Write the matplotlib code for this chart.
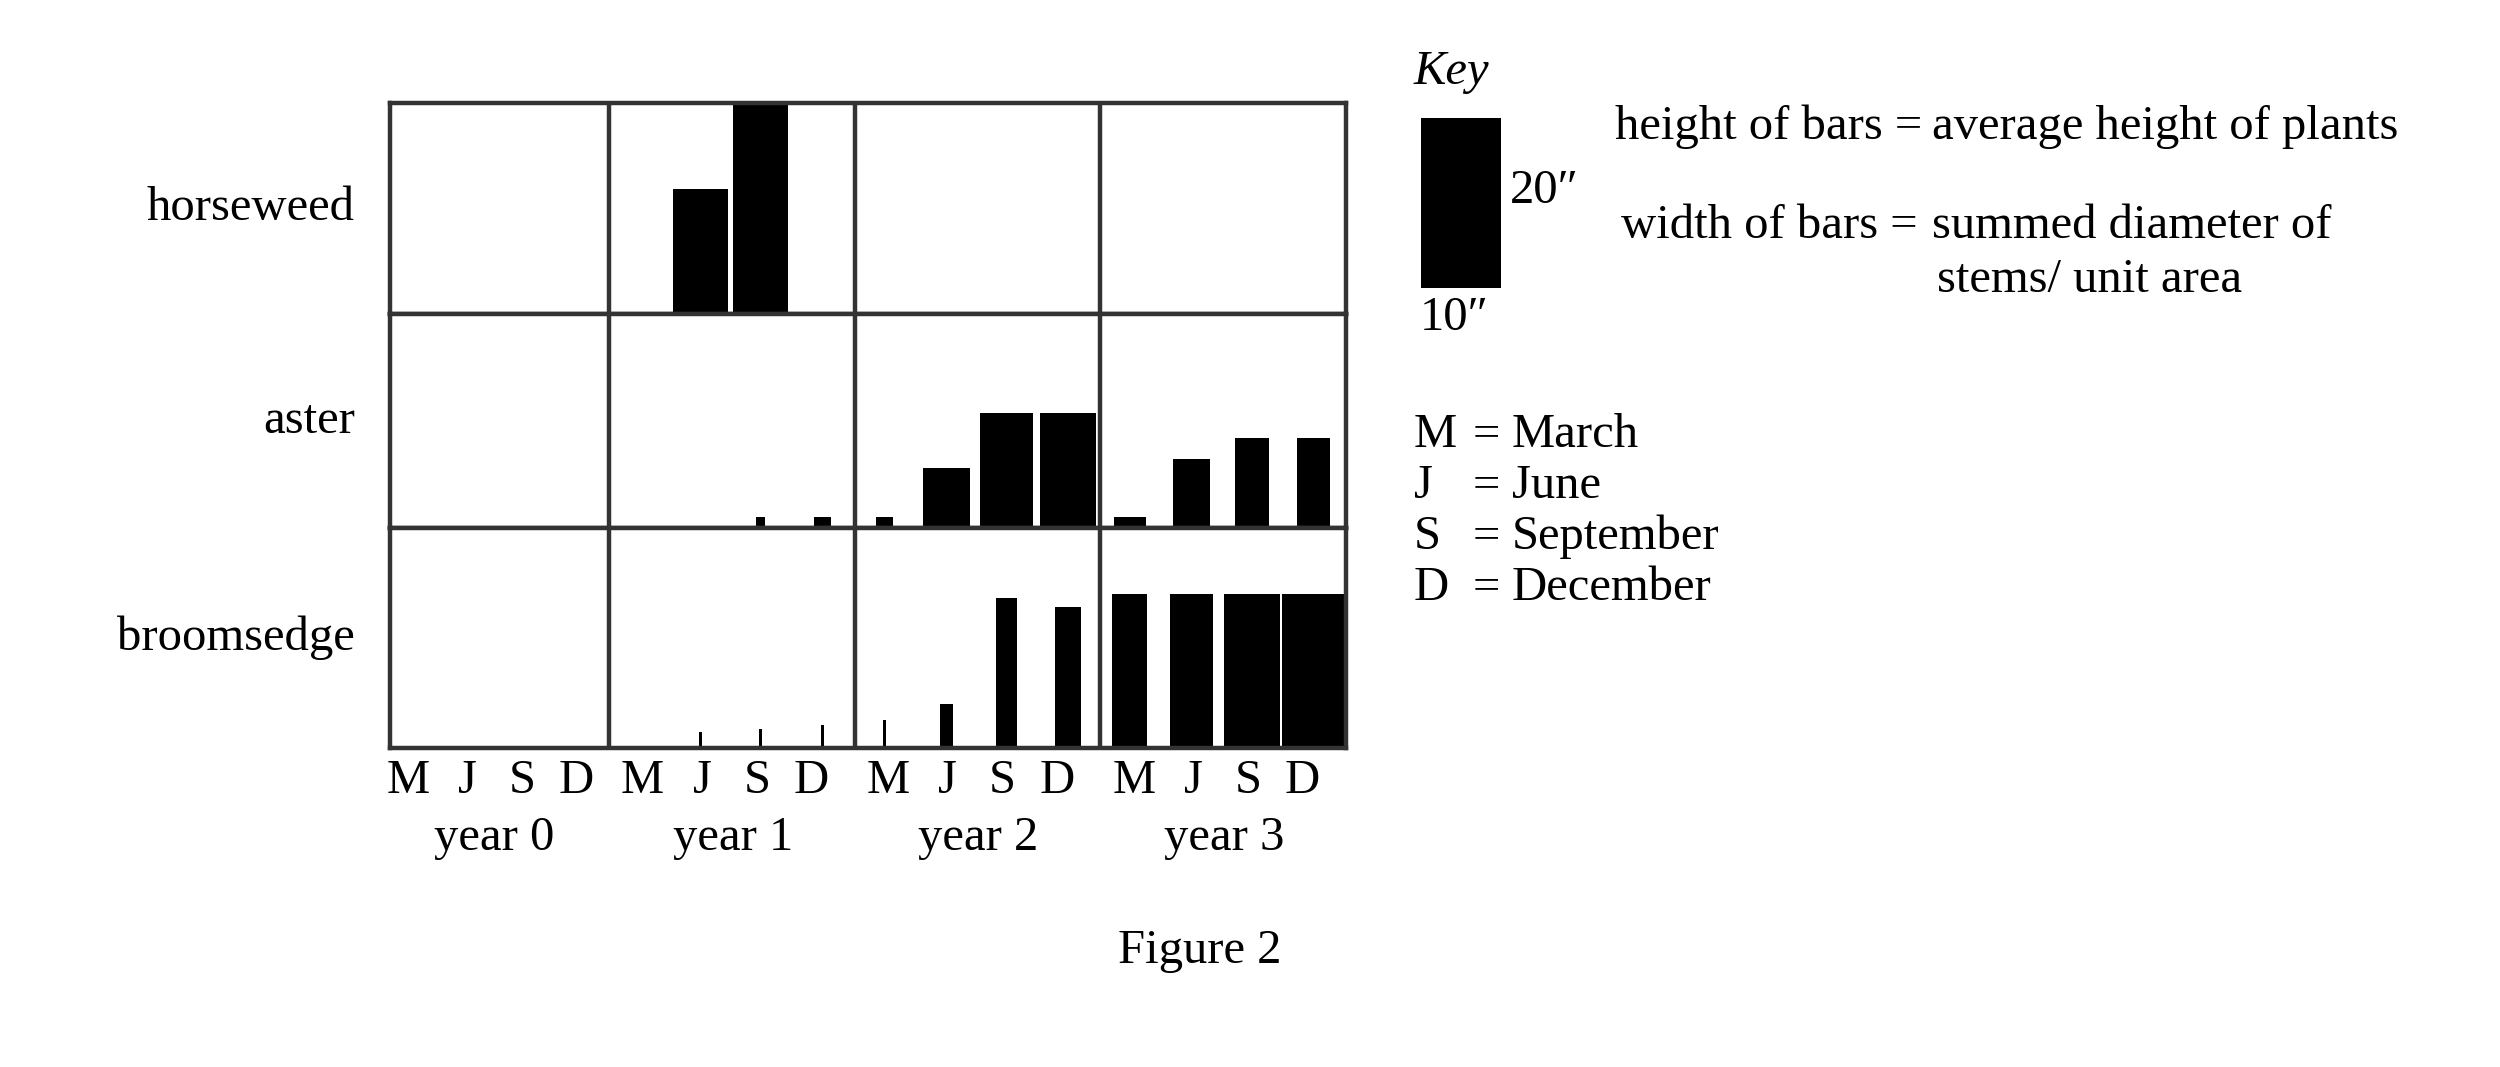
import numpy as np
import matplotlib.pyplot as plt

plt.rcParams['font.family'] = ['Liberation Serif', 'DejaVu Serif']

# ---- data ----
species = ['horseweed', 'aster', 'broomsedge']
years = ['year 0', 'year 1', 'year 2', 'year 3']
months = ['M', 'J', 'S', 'D']
month_names = ['March', 'June', 'September', 'December']

# (year, month index) of each bar, height in inches, width in key units (key bar = 10)
horseweed_when = [(1, 1), (1, 2)]
horseweed_height = [14.7, 25.0]
horseweed_width = [6.9, 6.9]

aster_when = [(1, 2), (1, 3), (2, 0), (2, 1), (2, 2), (2, 3), (3, 0), (3, 1), (3, 2), (3, 3)]
aster_height = [1.3, 1.3, 1.3, 7.1, 13.5, 13.5, 1.3, 8.1, 10.6, 10.6]
aster_width = [1.1, 2.1, 2.1, 5.9, 6.7, 6.9, 4.0, 4.6, 4.3, 4.2]

broom_when = [(1, 1), (1, 2), (1, 3), (2, 0), (2, 1), (2, 2), (2, 3), (3, 0), (3, 1), (3, 2), (3, 3)]
broom_height = [1.9, 2.2, 2.7, 3.3, 5.2, 17.6, 16.6, 18.1, 18.1, 18.1, 18.1]
broom_width = [0.4, 0.4, 0.4, 0.4, 1.6, 2.6, 3.3, 4.4, 5.4, 7.0, 7.8]

key_height = 20  # inches
key_width = 10

# ---- layout (pixels of a 2500x1067 canvas) ----
W, H = 2500, 1067
def fx(px):
    return px / W
def fy(py):
    return 1 - py / H

px_inch = 8.5       # vertical pixels per inch
px_wunit = 8.0      # horizontal pixels per width unit
px_step = 55.83     # pixels per month step on the x axis
year_len = 4.4
bar_off = [0.53, 1.64, 2.72, 3.82]
lab_off = [0.6, 1.67, 2.65, 3.62]
x0, x1 = 0.48, 4 * year_len
grid_left, grid_right = 390, 1346
row_edges = [103, 314, 528, 748]
line_col = '#333333'
lw = 3.2
fs = 35

fig = plt.figure(figsize=(25, 10.67), dpi=100)

rows = [(horseweed_when, horseweed_height, horseweed_width),
        (aster_when, aster_height, aster_width),
        (broom_when, broom_height, broom_width)]

axes = []
for i, (when, hts, wds) in enumerate(rows):
    top, bot = row_edges[i], row_edges[i + 1]
    ax = fig.add_axes([fx(grid_left), fy(bot), fx(grid_right - grid_left), (bot - top) / H])
    xs = [year_len * y + bar_off[m] for y, m in when]
    ws = [w * px_wunit / px_step for w in wds]
    ax.bar(xs, hts, width=ws, color='black', linewidth=0, align='center', zorder=1)
    ax.set_xlim(x0, x1)
    ax.set_ylim(0, (bot - top) / px_inch)
    for b in range(1, 4):
        ax.axvline(year_len * b, color=line_col, lw=lw, zorder=3)
    for s in ax.spines.values():
        s.set_linewidth(lw)
        s.set_color(line_col)
        s.set_zorder(3)
    ax.set_yticks([])
    ax.set_xticks([])
    ax.text(-0.037, 0.5, species[i], transform=ax.transAxes, ha='right', va='center',
            fontsize=fs)
    axes.append(ax)

# month labels and years under the bottom row
axb = axes[-1]
tick_pos = []
tick_lab = []
for y in range(len(years)):
    shift = 0.2 if y == 0 else 0.0
    for m in range(len(months)):
        tick_pos.append(year_len * y + lab_off[m] + shift)
        tick_lab.append(months[m])
axb.set_xticks(tick_pos, tick_lab)
axb.tick_params(axis='x', length=0, pad=8, labelsize=fs)
for y in range(len(years)):
    shift = 0.13 if y == 0 else 0.0
    axb.text(year_len * y + 2.22 + shift, -(838 - 748) / (748 - 528), years[y],
             transform=axb.get_xaxis_transform(), ha='center', va='center', fontsize=fs)

# ---- key ----
axk = fig.add_axes([fx(1421), fy(288), fx(80), 170 / H])
axk.bar(0, key_height, width=key_width, color='black', linewidth=0)
axk.set_xlim(-key_width / 2, key_width / 2)
axk.set_ylim(0, key_height)
axk.axis('off')

fig.text(fx(1414), fy(72), 'Key', style='italic', ha='left', va='center', fontsize=fs)
fig.text(fx(1510), fy(191), '%d\u2033' % key_height, ha='left', va='center', fontsize=fs)
fig.text(fx(1420), fy(318), '%d\u2033' % key_width, ha='left', va='center', fontsize=fs)

fig.text(fx(1922), fy(127), 'height of bars =', ha='right', va='center', fontsize=fs)
fig.text(fx(1932), fy(127), 'average height of plants', ha='left', va='center', fontsize=fs)
fig.text(fx(1918), fy(226), 'width of bars =', ha='right', va='center', fontsize=fs)
fig.text(fx(1932), fy(226), 'summed diameter of', ha='left', va='center', fontsize=fs)
fig.text(fx(1937), fy(280), 'stems/ unit area', ha='left', va='center', fontsize=fs)

for k, (m, name) in enumerate(zip(months, month_names)):
    yy = fy(435 + 51 * k)
    fig.text(fx(1414), yy, m, ha='left', va='center', fontsize=fs)
    fig.text(fx(1486), yy, '=', ha='center', va='center', fontsize=fs)
    fig.text(fx(1512), yy, name, ha='left', va='center', fontsize=fs)

fig.text(fx(1200), fy(951), 'Figure 2', ha='center', va='center', fontsize=fs)

fig.savefig('out.png', dpi=100, facecolor='white')
